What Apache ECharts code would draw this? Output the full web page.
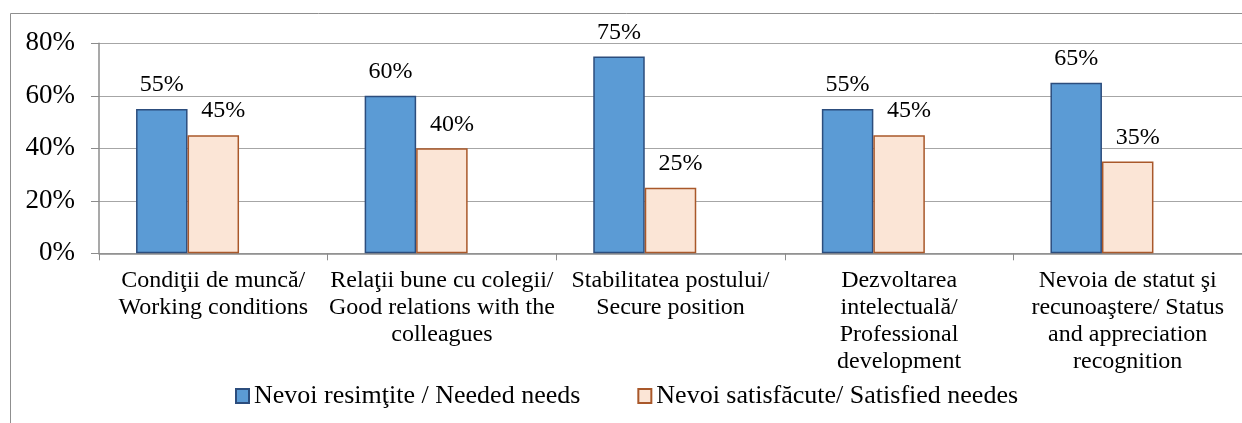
<!DOCTYPE html>
<html>
<head>
<meta charset="utf-8">
<script src="https://cdn.jsdelivr.net/npm/echarts@6/dist/echarts.min.js"></script>
<style>
html,body{margin:0;padding:0;background:#fff;}
#chart{width:1242px;height:423px;}
</style>
</head>
<body>
<div id="chart"></div>
<script>
var categories = [
  "Condiţii de muncă/\nWorking conditions",
  "Relaţii bune cu colegii/\nGood relations with the\ncolleagues",
  "Stabilitatea postului/\nSecure position",
  "Dezvoltarea\nintelectuală/\nProfessional\ndevelopment",
  "Nevoia de statut şi\nrecunoaştere/ Status\nand appreciation\nrecognition"
];
var seriesNames = ["Nevoi resimţite / Needed needs", "Nevoi satisfăcute/ Satisfied needes"];
var neededValues = [55, 60, 75, 55, 65];
var satisfiedValues = [45, 40, 25, 45, 35];
var emptyValues = [null, null, null, null, null];
var yTicks = [0, 20, 40, 60, 80];

var FONT = "'Liberation Serif', 'Times New Roman', serif";
var chart = echarts.init(document.getElementById('chart'), null, {renderer: 'canvas'});
var option = {
  animation: false,
  backgroundColor: '#ffffff',
  textStyle: {fontFamily: FONT, color: '#000'},
  graphic: [{
    type: 'rect',
    shape: {x: 10.5, y: 13.5, width: 1400, height: 600},
    style: {fill: 'none', stroke: '#8f8f8f', lineWidth: 1},
    silent: true, z: -10
  }],
  grid: {left: 99, top: 43.3, width: 1144, bottom: 169.7, containLabel: false},
  legend: {
    data: seriesNames,
    icon: 'rect',
    left: 235,
    top: 382,
    padding: 0,
    itemWidth: 13,
    itemHeight: 14,
    itemGap: 57,
    textStyle: {fontFamily: FONT, fontSize: 26, lineHeight: 28, color: '#000'}
  },
  xAxis: {
    type: 'category',
    data: categories,
    axisLine: {lineStyle: {color: '#8c8c8c', width: 1.5}},
    axisTick: {show: true, length: 7, lineStyle: {color: '#8c8c8c', width: 1}},
    axisLabel: {
      interval: 0, margin: 14, fontFamily: FONT, fontSize: 24, lineHeight: 27,
      color: '#000', align: 'center'
    }
  },
  yAxis: {
    type: 'value',
    min: yTicks[0],
    max: yTicks[yTicks.length - 1],
    interval: 20,
    axisLine: {show: true, lineStyle: {color: '#8c8c8c', width: 1.5}},
    axisTick: {show: true, length: 8, lineStyle: {color: '#8c8c8c'}},
    splitLine: {lineStyle: {color: '#a6a6a6', width: 1.2}},
    axisLabel: {margin: 24, fontFamily: FONT, fontSize: 27, color: '#000', formatter: '{value}%'}
  },
  series: [
    {
      name: seriesNames[0], type: 'bar', data: neededValues,
      barWidth: 51.5, barGap: '0%',
      itemStyle: {color: '#5b9bd5', borderColor: '#2c4d7d', borderWidth: 1.5},
      label: {show: true, position: 'top', distance: 12, formatter: '{c}%',
        fontFamily: FONT, fontSize: 24, color: '#000'}
    },
    {
      name: seriesNames[1], type: 'bar', data: satisfiedValues,
      barWidth: 51.5, barGap: '0%',
      itemStyle: {color: '#fbe5d6', borderColor: '#a9582a', borderWidth: 1.5},
      label: {show: true, position: 'top', distance: 12, offset: [10, 0], formatter: '{c}%',
        fontFamily: FONT, fontSize: 24, color: '#000'}
    },
    {
      name: 'empty', type: 'bar', data: emptyValues,
      barWidth: 51.5, barGap: '0%'
    }
  ]
};
chart.setOption(option);
</script>
</body>
</html>
